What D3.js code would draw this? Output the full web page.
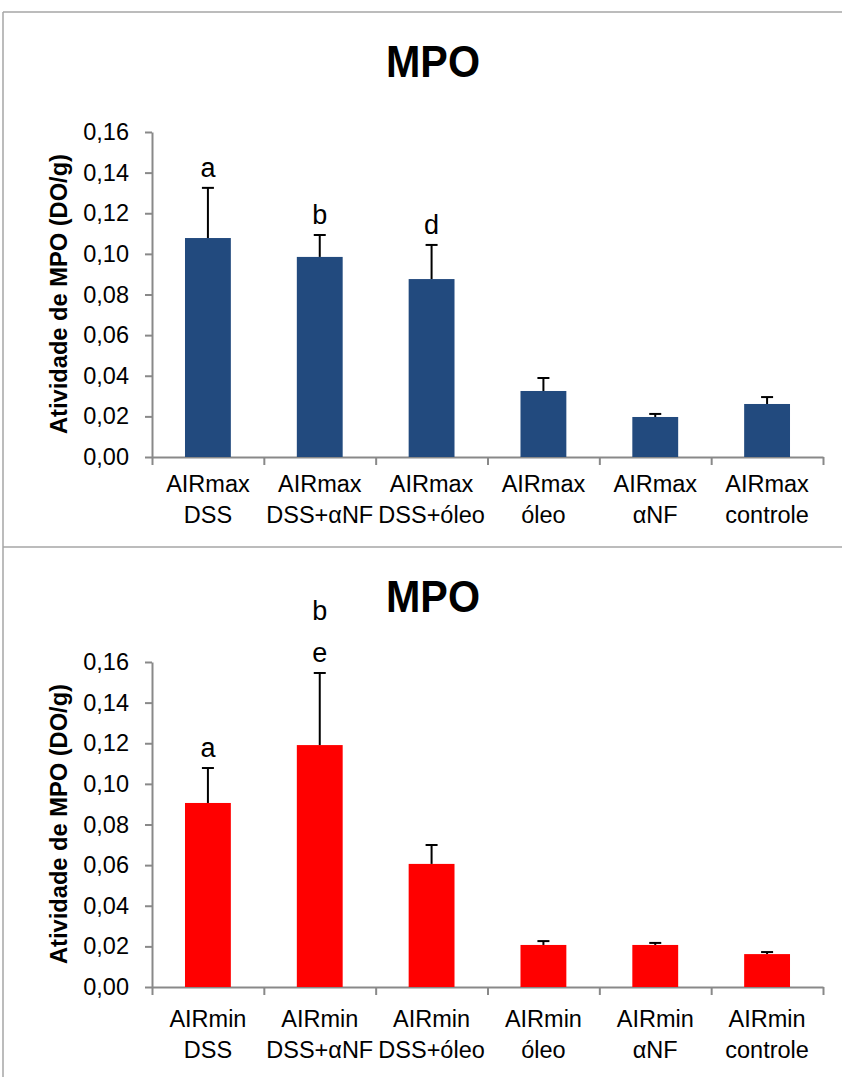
<!DOCTYPE html>
<html>
<head>
<meta charset="utf-8">
<script src="https://cdn.jsdelivr.net/npm/d3@7"></script>
<style>
  body { margin: 0; background: #fff; }
  svg text { font-family: "Liberation Sans", Arial, sans-serif; fill: #000; }
  .axis path, .axis line { stroke: #898989; stroke-width: 2; }
  .frame { stroke: #a6a6a6; stroke-width: 1.5; }
</style>
</head>
<body>
<script>
// data
var groups = ["DSS", "DSS+αNF", "DSS+óleo", "óleo", "αNF", "controle"];
var yTicks = [0, 0.02, 0.04, 0.06, 0.08, 0.10, 0.12, 0.14, 0.16];

var maxMeans = [0.1078, 0.0985, 0.0876, 0.0325, 0.0197, 0.0261];
var maxErr   = [0.0247, 0.0108, 0.0168, 0.0064, 0.0015, 0.0034];
var maxLetters = [["a"], ["b"], ["d"], [], [], []];

var minMeans = [0.0906, 0.1191, 0.0606, 0.0207, 0.0207, 0.0162];
var minErr   = [0.0172, 0.0355, 0.0093, 0.0019, 0.0010, 0.0010];
var minLetters = [["a"], ["e", "b"], [], [], [], []];

var WIDTH = 842;
var HEIGHT = 1077;
var LEFT = 152, RIGHT = 823;

var svg = d3.select("body")
            .append("svg")
            .attr("width", WIDTH)
            .attr("height", HEIGHT);

// spreadsheet cell borders around the two charts
svg.append("line").classed("frame", true)
   .attr("x1", 3).attr("x2", 3).attr("y1", 12).attr("y2", HEIGHT);
svg.append("line").classed("frame", true)
   .attr("x1", 3).attr("x2", WIDTH).attr("y1", 12).attr("y2", 12);
svg.append("line").classed("frame", true)
   .attr("x1", 3).attr("x2", WIDTH).attr("y1", 547).attr("y2", 547);

var drawPanel = function(opts) {
    var g = svg.append("g");

    var y = d3.scaleLinear().domain([0, 0.16]).range([opts.bottom, opts.bottom - 325]);
    var x = d3.scaleBand().domain(d3.range(groups.length))
              .range([LEFT, RIGHT]).paddingInner(0.59).paddingOuter(0.295);
    var xEdge = d3.scaleLinear().domain([0, groups.length]).range([LEFT, RIGHT]);

    g.append("text")
     .attr("x", 433)
     .attr("y", opts.titleY)
     .attr("text-anchor", "middle")
     .style("font-size", "44px")
     .style("font-weight", "bold")
     .attr("textLength", 94)
     .attr("lengthAdjust", "spacingAndGlyphs")
     .text("MPO");

    var yAxis = g.append("g")
                 .classed("axis", true)
                 .attr("transform", "translate(" + LEFT + ",0)")
                 .call(d3.axisLeft(y)
                         .tickValues(yTicks)
                         .tickSize(7)
                         .tickSizeOuter(0)
                         .tickPadding(16)
                         .tickFormat(d => d.toFixed(2).replace(".", ",")));
    yAxis.selectAll("text").style("font-size", "23.5px");

    var xAxis = g.append("g")
                 .classed("axis", true)
                 .attr("transform", "translate(0," + opts.bottom + ")")
                 .call(d3.axisBottom(xEdge)
                         .tickValues(d3.range(groups.length + 1))
                         .tickSize(8)
                         .tickSizeOuter(0)
                         .tickFormat(""));

    g.append("text")
     .attr("transform", "translate(67," + (opts.bottom - 163) + ") rotate(-90)")
     .attr("text-anchor", "middle")
     .style("font-size", "24px")
     .style("font-weight", "bold")
     .attr("textLength", 280)
     .attr("lengthAdjust", "spacingAndGlyphs")
     .text("Atividade de MPO (DO/g)");

    g.selectAll("rect.bar")
     .data(opts.means)
     .enter()
     .append("rect")
     .classed("bar", true)
     .attr("x", (d, i) => x(i))
     .attr("width", x.bandwidth())
     .attr("y", d => y(d))
     .attr("height", d => y(0) - y(d))
     .attr("fill", opts.color);

    var errs = g.selectAll("g.err")
                .data(opts.means)
                .enter()
                .append("g")
                .classed("err", true);
    errs.append("line")
        .attr("x1", (d, i) => x(i) + x.bandwidth() / 2)
        .attr("x2", (d, i) => x(i) + x.bandwidth() / 2)
        .attr("y1", d => y(d))
        .attr("y2", (d, i) => y(d + opts.err[i]))
        .attr("stroke", "#000").attr("stroke-width", 2);
    errs.append("line")
        .attr("x1", (d, i) => x(i) + x.bandwidth() / 2 - 6)
        .attr("x2", (d, i) => x(i) + x.bandwidth() / 2 + 6)
        .attr("y1", (d, i) => y(d + opts.err[i]))
        .attr("y2", (d, i) => y(d + opts.err[i]))
        .attr("stroke", "#000").attr("stroke-width", 2);

    // significance letters stacked above the error bars
    opts.letters.forEach((ls, i) => {
        ls.forEach((l, k) => {
            g.append("text")
             .attr("x", x(i) + x.bandwidth() / 2)
             .attr("y", y(opts.means[i] + opts.err[i]) - 11 - k * 42)
             .attr("text-anchor", "middle")
             .style("font-size", "27px")
             .text(l);
        });
    });

    var labels = g.selectAll("text.cat")
                  .data(groups)
                  .enter()
                  .append("text")
                  .classed("cat", true)
                  .attr("text-anchor", "middle")
                  .style("font-size", "23.5px");
    labels.append("tspan")
          .attr("x", (d, i) => x(i) + x.bandwidth() / 2)
          .attr("y", opts.bottom + opts.labelDy)
          .text(opts.prefix);
    labels.append("tspan")
          .attr("x", (d, i) => x(i) + x.bandwidth() / 2)
          .attr("y", opts.bottom + opts.labelDy + 31)
          .text(d => d);
};

drawPanel({ bottom: 457, titleY: 77, prefix: "AIRmax", means: maxMeans, err: maxErr,
            letters: maxLetters, color: "#224a7e", labelDy: 35 });
drawPanel({ bottom: 987, titleY: 612, prefix: "AIRmin", means: minMeans, err: minErr,
            letters: minLetters, color: "#ff0000", labelDy: 40 });
</script>
</body>
</html>
